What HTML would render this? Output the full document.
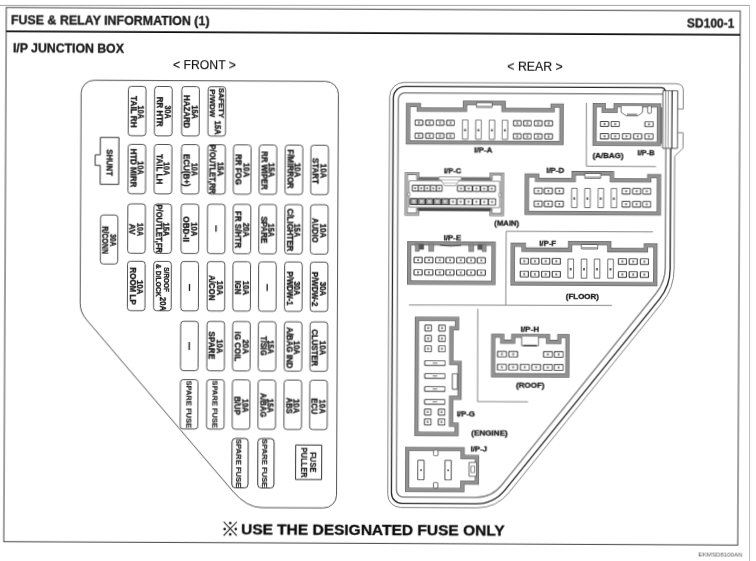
<!DOCTYPE html>
<html><head><meta charset="utf-8"><title>Fuse &amp; Relay Information</title>
<style>
html,body{margin:0;padding:0;background:#fff;}
svg{display:block;}
text{font-family:"Liberation Sans",sans-serif;}
</style></head><body>
<svg width="756" height="561" viewBox="0 0 756 561">
<defs><filter id="soft" x="-2%" y="-2%" width="104%" height="104%"><feGaussianBlur stdDeviation="0.35"/></filter></defs>
<rect width="756" height="561" fill="#ffffff"/>
<line x1="0" y1="5.4" x2="749.8" y2="5.4" stroke="#9a9a9a" stroke-width="0.9"/>
<line x1="749.6" y1="5.4" x2="749.6" y2="561" stroke="#b5b5b5" stroke-width="0.9"/>
<g transform="rotate(0.27 378.0 280.5)" filter="url(#soft)">
<rect x="5.02" y="9.25" width="733.98" height="534.15" fill="none" stroke="#444" stroke-width="1.0"/>
<line x1="5.02" y1="33.15" x2="739" y2="33.15" stroke="#111" stroke-width="1.7"/>
<text x="9.7" y="26.33" font-size="12.5" font-weight="bold" text-anchor="start" fill="#1c1c1c" textLength="198.6" lengthAdjust="spacingAndGlyphs"  stroke="#1c1c1c" stroke-width="0.35">FUSE &amp; RELAY INFORMATION (1)</text>
<text x="685.8" y="26.15" font-size="12.5" font-weight="bold" text-anchor="start" fill="#1c1c1c" textLength="47.4" lengthAdjust="spacingAndGlyphs"  stroke="#1c1c1c" stroke-width="0.35">SD100-1</text>
<text x="11.93" y="54.22" font-size="12.7" font-weight="bold" text-anchor="start" fill="#1c1c1c" textLength="110.9" lengthAdjust="spacingAndGlyphs"  stroke="#1c1c1c" stroke-width="0.35">I/P JUNCTION BOX</text>
<text x="172.11" y="70.07" font-size="12.4" font-weight="normal" text-anchor="start" fill="#111" textLength="62.8" lengthAdjust="spacingAndGlyphs" stroke="#111" stroke-width="0.15">&lt; FRONT &gt;</text>
<text x="506.31" y="69.69" font-size="12.4" font-weight="normal" text-anchor="start" fill="#111" textLength="55.4" lengthAdjust="spacingAndGlyphs" stroke="#111" stroke-width="0.15">&lt; REAR &gt;</text>
<text x="242.2" y="534.84" font-size="15.4" font-weight="bold" text-anchor="start" fill="#111" textLength="263.6" lengthAdjust="spacingAndGlyphs"  stroke="#111" stroke-width="0.35">USE THE DESIGNATED FUSE ONLY</text>
<g stroke="#111" stroke-width="1.05" stroke-linecap="butt"><line x1="224.77" y1="522.49" x2="237.97" y2="536.29"/><line x1="224.77" y1="536.29" x2="237.97" y2="522.49"/></g>
<circle cx="231.37" cy="523.69" r="1.3" fill="#111"/>
<circle cx="231.37" cy="535.09" r="1.3" fill="#111"/>
<circle cx="225.82" cy="529.79" r="1.3" fill="#111"/>
<circle cx="236.92" cy="529.79" r="1.3" fill="#111"/>
<text x="699.6" y="555.19" font-size="5.6" font-weight="normal" text-anchor="start" fill="#555" textLength="44.2" lengthAdjust="spacingAndGlyphs" >EKMSD8100AN</text>
<path d="M 93.26 81.6 L 324.55 81.6 A 13 13 0 0 1 337.55 94.6 L 337.55 495.2 A 13 13 0 0 1 324.55 508.2 L 263.07 508.2 Q 247.79 508.2 234 492.18 L 86.69 321.07 Q 80.26 313.61 80.26 304.4 L 80.26 94.6 A 13 13 0 0 1 93.26 81.6 Z" fill="none" stroke="#4a4a4a" stroke-width="0.95"/>
<rect x="127.5" y="87.5" width="17.6" height="49.4" rx="3" ry="3" fill="none" stroke="#484848" stroke-width="0.95"/>
<text transform="translate(137.3 113.29) rotate(90)" font-size="8.3" font-weight="bold" text-anchor="middle" fill="#1c1c1c" stroke="#1c1c1c" stroke-width="0.35" textLength="13.5" lengthAdjust="spacingAndGlyphs">10A</text>
<text transform="translate(129.5 112.89) rotate(90)" font-size="8.3" font-weight="bold" text-anchor="middle" fill="#1c1c1c" stroke="#1c1c1c" stroke-width="0.35" textLength="31.7" lengthAdjust="spacingAndGlyphs">TAIL RH</text>
<rect x="153.7" y="87.5" width="17.6" height="49.4" rx="3" ry="3" fill="none" stroke="#484848" stroke-width="0.95"/>
<text transform="translate(163.5 113.17) rotate(90)" font-size="8.3" font-weight="bold" text-anchor="middle" fill="#1c1c1c" stroke="#1c1c1c" stroke-width="0.35" textLength="13.5" lengthAdjust="spacingAndGlyphs">30A</text>
<text transform="translate(155.7 112.77) rotate(90)" font-size="8.3" font-weight="bold" text-anchor="middle" fill="#1c1c1c" stroke="#1c1c1c" stroke-width="0.35" textLength="30.1" lengthAdjust="spacingAndGlyphs">RR HTR</text>
<rect x="180.9" y="87.5" width="17.6" height="49.4" rx="3" ry="3" fill="none" stroke="#484848" stroke-width="0.95"/>
<text transform="translate(190.7 113.04) rotate(90)" font-size="8.3" font-weight="bold" text-anchor="middle" fill="#1c1c1c" stroke="#1c1c1c" stroke-width="0.35" textLength="13.5" lengthAdjust="spacingAndGlyphs">15A</text>
<text transform="translate(182.9 112.64) rotate(90)" font-size="8.3" font-weight="bold" text-anchor="middle" fill="#1c1c1c" stroke="#1c1c1c" stroke-width="0.35" textLength="33.3" lengthAdjust="spacingAndGlyphs">HAZARD</text>
<rect x="207.2" y="87.5" width="17.6" height="49.4" rx="3" ry="3" fill="none" stroke="#484848" stroke-width="0.95"/>
<text transform="translate(217.7 103.76) rotate(90)" font-size="7.8" font-weight="bold" text-anchor="middle" fill="#1c1c1c" stroke="#1c1c1c" stroke-width="0.35" textLength="30.2" lengthAdjust="spacingAndGlyphs">SAFETY</text>
<text transform="translate(209.4 104.16) rotate(90)" font-size="7.8" font-weight="bold" text-anchor="middle" fill="#1c1c1c" stroke="#1c1c1c" stroke-width="0.35" textLength="27.8" lengthAdjust="spacingAndGlyphs">P/WDW</text>
<text transform="translate(213.6 128.56) rotate(90)" font-size="8.6" font-weight="bold" text-anchor="middle" fill="#1c1c1c" stroke="#1c1c1c" stroke-width="0.35" textLength="14" lengthAdjust="spacingAndGlyphs">15A</text>
<rect x="127.5" y="145.5" width="17.6" height="49.4" rx="3" ry="3" fill="none" stroke="#484848" stroke-width="0.95"/>
<text transform="translate(137.3 169.09) rotate(90)" font-size="8.3" font-weight="bold" text-anchor="middle" fill="#1c1c1c" stroke="#1c1c1c" stroke-width="0.35" textLength="13.5" lengthAdjust="spacingAndGlyphs">10A</text>
<text transform="translate(129.5 169.09) rotate(90)" font-size="8.3" font-weight="bold" text-anchor="middle" fill="#1c1c1c" stroke="#1c1c1c" stroke-width="0.35" textLength="38.9" lengthAdjust="spacingAndGlyphs">HTD MIRR</text>
<rect x="153.7" y="145.5" width="17.6" height="49.4" rx="3" ry="3" fill="none" stroke="#484848" stroke-width="0.95"/>
<text transform="translate(163.5 169.77) rotate(90)" font-size="8.3" font-weight="bold" text-anchor="middle" fill="#1c1c1c" stroke="#1c1c1c" stroke-width="0.35" textLength="13.5" lengthAdjust="spacingAndGlyphs">10A</text>
<text transform="translate(155.7 170.12) rotate(90)" font-size="8.3" font-weight="bold" text-anchor="middle" fill="#1c1c1c" stroke="#1c1c1c" stroke-width="0.35" textLength="30.2" lengthAdjust="spacingAndGlyphs">TAIL LH</text>
<rect x="180.9" y="145.5" width="17.6" height="49.4" rx="3" ry="3" fill="none" stroke="#484848" stroke-width="0.95"/>
<text transform="translate(190.7 170.44) rotate(90)" font-size="8.3" font-weight="bold" text-anchor="middle" fill="#1c1c1c" stroke="#1c1c1c" stroke-width="0.35" textLength="13.5" lengthAdjust="spacingAndGlyphs">10A</text>
<text transform="translate(182.9 171.19) rotate(90)" font-size="8.3" font-weight="bold" text-anchor="middle" fill="#1c1c1c" stroke="#1c1c1c" stroke-width="0.35" textLength="32.6" lengthAdjust="spacingAndGlyphs">ECU(B+)</text>
<rect x="207.2" y="145.5" width="17.6" height="49.4" rx="3" ry="3" fill="none" stroke="#484848" stroke-width="0.95"/>
<text transform="translate(217 169.81) rotate(90)" font-size="8.3" font-weight="bold" text-anchor="middle" fill="#1c1c1c" stroke="#1c1c1c" stroke-width="0.35" textLength="14.3" lengthAdjust="spacingAndGlyphs">15A</text>
<text transform="translate(209.2 170.16) rotate(90)" font-size="8.3" font-weight="bold" text-anchor="middle" fill="#1c1c1c" stroke="#1c1c1c" stroke-width="0.35" textLength="49.2" lengthAdjust="spacingAndGlyphs">P/OUTLET,RR</text>
<rect x="232.9" y="145.5" width="17.6" height="49.4" rx="3" ry="3" fill="none" stroke="#484848" stroke-width="0.95"/>
<text transform="translate(242.7 170.64) rotate(90)" font-size="8.3" font-weight="bold" text-anchor="middle" fill="#1c1c1c" stroke="#1c1c1c" stroke-width="0.35" textLength="14.4" lengthAdjust="spacingAndGlyphs">10A</text>
<text transform="translate(234.9 170.19) rotate(90)" font-size="8.3" font-weight="bold" text-anchor="middle" fill="#1c1c1c" stroke="#1c1c1c" stroke-width="0.35" textLength="30.7" lengthAdjust="spacingAndGlyphs">RR FOG</text>
<rect x="258.6" y="145.5" width="17.6" height="49.4" rx="3" ry="3" fill="none" stroke="#484848" stroke-width="0.95"/>
<text transform="translate(268.4 170.52) rotate(90)" font-size="8.3" font-weight="bold" text-anchor="middle" fill="#1c1c1c" stroke="#1c1c1c" stroke-width="0.35" textLength="14.4" lengthAdjust="spacingAndGlyphs">15A</text>
<text transform="translate(260.6 171.02) rotate(90)" font-size="8.3" font-weight="bold" text-anchor="middle" fill="#1c1c1c" stroke="#1c1c1c" stroke-width="0.35" textLength="38.4" lengthAdjust="spacingAndGlyphs">RR WIPER</text>
<rect x="284.6" y="145.5" width="17.6" height="49.4" rx="3" ry="3" fill="none" stroke="#484848" stroke-width="0.95"/>
<text transform="translate(294.4 170.4) rotate(90)" font-size="8.3" font-weight="bold" text-anchor="middle" fill="#1c1c1c" stroke="#1c1c1c" stroke-width="0.35" textLength="14.4" lengthAdjust="spacingAndGlyphs">10A</text>
<text transform="translate(286.6 169.45) rotate(90)" font-size="8.3" font-weight="bold" text-anchor="middle" fill="#1c1c1c" stroke="#1c1c1c" stroke-width="0.35" textLength="39.3" lengthAdjust="spacingAndGlyphs">F/MIRROR</text>
<rect x="310.3" y="145.5" width="17.6" height="49.4" rx="3" ry="3" fill="none" stroke="#484848" stroke-width="0.95"/>
<text transform="translate(320.1 171.28) rotate(90)" font-size="8.3" font-weight="bold" text-anchor="middle" fill="#1c1c1c" stroke="#1c1c1c" stroke-width="0.35" textLength="14.4" lengthAdjust="spacingAndGlyphs">10A</text>
<text transform="translate(312.3 171.23) rotate(90)" font-size="8.3" font-weight="bold" text-anchor="middle" fill="#1c1c1c" stroke="#1c1c1c" stroke-width="0.35" textLength="25.9" lengthAdjust="spacingAndGlyphs">START</text>
<rect x="127.5" y="205" width="17.6" height="49.4" rx="3" ry="3" fill="none" stroke="#484848" stroke-width="0.95"/>
<text transform="translate(137.3 230.69) rotate(90)" font-size="8.3" font-weight="bold" text-anchor="middle" fill="#1c1c1c" stroke="#1c1c1c" stroke-width="0.35" textLength="13.5" lengthAdjust="spacingAndGlyphs">10A</text>
<text transform="translate(129.5 230.29) rotate(90)" font-size="8.3" font-weight="bold" text-anchor="middle" fill="#1c1c1c" stroke="#1c1c1c" stroke-width="0.35" textLength="11.1" lengthAdjust="spacingAndGlyphs">AV</text>
<rect x="153.7" y="205" width="17.6" height="49.4" rx="3" ry="3" fill="none" stroke="#484848" stroke-width="0.95"/>
<text transform="translate(163.5 230.37) rotate(90)" font-size="8.3" font-weight="bold" text-anchor="middle" fill="#1c1c1c" stroke="#1c1c1c" stroke-width="0.35" textLength="13.9" lengthAdjust="spacingAndGlyphs">15A</text>
<text transform="translate(155.7 229.72) rotate(90)" font-size="8.3" font-weight="bold" text-anchor="middle" fill="#1c1c1c" stroke="#1c1c1c" stroke-width="0.35" textLength="48.4" lengthAdjust="spacingAndGlyphs">P/OUTLET,FR</text>
<rect x="180.9" y="205" width="17.6" height="49.4" rx="3" ry="3" fill="none" stroke="#484848" stroke-width="0.95"/>
<text transform="translate(190.7 230.24) rotate(90)" font-size="8.3" font-weight="bold" text-anchor="middle" fill="#1c1c1c" stroke="#1c1c1c" stroke-width="0.35" textLength="13.9" lengthAdjust="spacingAndGlyphs">10A</text>
<text transform="translate(182.9 229.99) rotate(90)" font-size="8.3" font-weight="bold" text-anchor="middle" fill="#1c1c1c" stroke="#1c1c1c" stroke-width="0.35" textLength="25.4" lengthAdjust="spacingAndGlyphs">OBD-II</text>
<rect x="207.2" y="205" width="17.6" height="49.4" rx="3" ry="3" fill="none" stroke="#484848" stroke-width="0.95"/>
<line x1="215.8" y1="225.96" x2="215.8" y2="232.46" stroke="#1c1c1c" stroke-width="1.3"/>
<rect x="232.9" y="205" width="17.6" height="49.4" rx="3" ry="3" fill="none" stroke="#484848" stroke-width="0.95"/>
<text transform="translate(242.7 230.59) rotate(90)" font-size="8.3" font-weight="bold" text-anchor="middle" fill="#1c1c1c" stroke="#1c1c1c" stroke-width="0.35" textLength="14.3" lengthAdjust="spacingAndGlyphs">20A</text>
<text transform="translate(234.9 230.19) rotate(90)" font-size="8.3" font-weight="bold" text-anchor="middle" fill="#1c1c1c" stroke="#1c1c1c" stroke-width="0.35" textLength="37.3" lengthAdjust="spacingAndGlyphs">FR S/HTR</text>
<rect x="258.6" y="205" width="17.6" height="49.4" rx="3" ry="3" fill="none" stroke="#484848" stroke-width="0.95"/>
<text transform="translate(268.4 230.87) rotate(90)" font-size="8.3" font-weight="bold" text-anchor="middle" fill="#1c1c1c" stroke="#1c1c1c" stroke-width="0.35" textLength="13.5" lengthAdjust="spacingAndGlyphs">15A</text>
<text transform="translate(260.6 230.42) rotate(90)" font-size="8.3" font-weight="bold" text-anchor="middle" fill="#1c1c1c" stroke="#1c1c1c" stroke-width="0.35" textLength="27" lengthAdjust="spacingAndGlyphs">SPARE</text>
<rect x="284.6" y="205" width="17.6" height="49.4" rx="3" ry="3" fill="none" stroke="#484848" stroke-width="0.95"/>
<text transform="translate(294.4 230.75) rotate(90)" font-size="8.3" font-weight="bold" text-anchor="middle" fill="#1c1c1c" stroke="#1c1c1c" stroke-width="0.35" textLength="13.5" lengthAdjust="spacingAndGlyphs">15A</text>
<text transform="translate(286.6 230.3) rotate(90)" font-size="8.3" font-weight="bold" text-anchor="middle" fill="#1c1c1c" stroke="#1c1c1c" stroke-width="0.35" textLength="42.8" lengthAdjust="spacingAndGlyphs">C/LIGHTER</text>
<rect x="310.3" y="205" width="17.6" height="49.4" rx="3" ry="3" fill="none" stroke="#484848" stroke-width="0.95"/>
<text transform="translate(320.1 231.03) rotate(90)" font-size="8.3" font-weight="bold" text-anchor="middle" fill="#1c1c1c" stroke="#1c1c1c" stroke-width="0.35" textLength="14.3" lengthAdjust="spacingAndGlyphs">10A</text>
<text transform="translate(312.3 230.58) rotate(90)" font-size="8.3" font-weight="bold" text-anchor="middle" fill="#1c1c1c" stroke="#1c1c1c" stroke-width="0.35" textLength="24.6" lengthAdjust="spacingAndGlyphs">AUDIO</text>
<rect x="127.5" y="262.4" width="17.6" height="49.4" rx="3" ry="3" fill="none" stroke="#484848" stroke-width="0.95"/>
<text transform="translate(137.3 288.29) rotate(90)" font-size="8.3" font-weight="bold" text-anchor="middle" fill="#1c1c1c" stroke="#1c1c1c" stroke-width="0.35" textLength="14.3" lengthAdjust="spacingAndGlyphs">10A</text>
<text transform="translate(129.5 287.09) rotate(90)" font-size="8.3" font-weight="bold" text-anchor="middle" fill="#1c1c1c" stroke="#1c1c1c" stroke-width="0.35" textLength="37.3" lengthAdjust="spacingAndGlyphs">ROOM LP</text>
<rect x="153.7" y="262.4" width="17.6" height="49.4" rx="3" ry="3" fill="none" stroke="#484848" stroke-width="0.95"/>
<text transform="translate(164.2 280.62) rotate(90)" font-size="7.8" font-weight="bold" text-anchor="middle" fill="#1c1c1c" stroke="#1c1c1c" stroke-width="0.35" textLength="24.6" lengthAdjust="spacingAndGlyphs">S/ROOF</text>
<text transform="translate(155.9 281.42) rotate(90)" font-size="7.8" font-weight="bold" text-anchor="middle" fill="#1c1c1c" stroke="#1c1c1c" stroke-width="0.35" textLength="32.6" lengthAdjust="spacingAndGlyphs">&amp; D/LOCK</text>
<text transform="translate(160.1 304.92) rotate(90)" font-size="8.6" font-weight="bold" text-anchor="middle" fill="#1c1c1c" stroke="#1c1c1c" stroke-width="0.35" textLength="14" lengthAdjust="spacingAndGlyphs">20A</text>
<rect x="180.9" y="262.4" width="17.6" height="49.4" rx="3" ry="3" fill="none" stroke="#484848" stroke-width="0.95"/>
<line x1="189.5" y1="284.89" x2="189.5" y2="291.89" stroke="#1c1c1c" stroke-width="1.3"/>
<rect x="207.2" y="262.4" width="17.6" height="49.4" rx="3" ry="3" fill="none" stroke="#484848" stroke-width="0.95"/>
<text transform="translate(217 288.71) rotate(90)" font-size="8.3" font-weight="bold" text-anchor="middle" fill="#1c1c1c" stroke="#1c1c1c" stroke-width="0.35" textLength="14.3" lengthAdjust="spacingAndGlyphs">10A</text>
<text transform="translate(209.2 288.66) rotate(90)" font-size="8.3" font-weight="bold" text-anchor="middle" fill="#1c1c1c" stroke="#1c1c1c" stroke-width="0.35" textLength="25.4" lengthAdjust="spacingAndGlyphs">A/CON</text>
<rect x="232.9" y="262.4" width="17.6" height="49.4" rx="3" ry="3" fill="none" stroke="#484848" stroke-width="0.95"/>
<text transform="translate(242.7 288.59) rotate(90)" font-size="8.3" font-weight="bold" text-anchor="middle" fill="#1c1c1c" stroke="#1c1c1c" stroke-width="0.35" textLength="14.3" lengthAdjust="spacingAndGlyphs">10A</text>
<text transform="translate(234.9 288.19) rotate(90)" font-size="8.3" font-weight="bold" text-anchor="middle" fill="#1c1c1c" stroke="#1c1c1c" stroke-width="0.35" textLength="13.5" lengthAdjust="spacingAndGlyphs">IGN</text>
<rect x="258.6" y="262.4" width="17.6" height="49.4" rx="3" ry="3" fill="none" stroke="#484848" stroke-width="0.95"/>
<line x1="267.2" y1="284.52" x2="267.2" y2="291.62" stroke="#1c1c1c" stroke-width="1.3"/>
<rect x="284.6" y="262.4" width="17.6" height="49.4" rx="3" ry="3" fill="none" stroke="#484848" stroke-width="0.95"/>
<text transform="translate(294.4 288.8) rotate(90)" font-size="8.3" font-weight="bold" text-anchor="middle" fill="#1c1c1c" stroke="#1c1c1c" stroke-width="0.35" textLength="14.2" lengthAdjust="spacingAndGlyphs">30A</text>
<text transform="translate(286.6 288.75) rotate(90)" font-size="8.3" font-weight="bold" text-anchor="middle" fill="#1c1c1c" stroke="#1c1c1c" stroke-width="0.35" textLength="34.1" lengthAdjust="spacingAndGlyphs">P/WDW-1</text>
<rect x="310.3" y="262.4" width="17.6" height="49.4" rx="3" ry="3" fill="none" stroke="#484848" stroke-width="0.95"/>
<text transform="translate(320.1 289.03) rotate(90)" font-size="8.3" font-weight="bold" text-anchor="middle" fill="#1c1c1c" stroke="#1c1c1c" stroke-width="0.35" textLength="14.3" lengthAdjust="spacingAndGlyphs">30A</text>
<text transform="translate(312.3 289.38) rotate(90)" font-size="8.3" font-weight="bold" text-anchor="middle" fill="#1c1c1c" stroke="#1c1c1c" stroke-width="0.35" textLength="34.2" lengthAdjust="spacingAndGlyphs">P/WDW-2</text>
<rect x="180.9" y="322.2" width="17.6" height="49.4" rx="3" ry="3" fill="none" stroke="#484848" stroke-width="0.95"/>
<line x1="189.5" y1="342.89" x2="189.5" y2="350.89" stroke="#1c1c1c" stroke-width="1.3"/>
<rect x="207.2" y="322.2" width="17.6" height="49.4" rx="3" ry="3" fill="none" stroke="#484848" stroke-width="0.95"/>
<text transform="translate(217 347.26) rotate(90)" font-size="8.3" font-weight="bold" text-anchor="middle" fill="#1c1c1c" stroke="#1c1c1c" stroke-width="0.35" textLength="13.8" lengthAdjust="spacingAndGlyphs">10A</text>
<text transform="translate(209.2 346.16) rotate(90)" font-size="8.3" font-weight="bold" text-anchor="middle" fill="#1c1c1c" stroke="#1c1c1c" stroke-width="0.35" textLength="27.6" lengthAdjust="spacingAndGlyphs">SPARE</text>
<rect x="232.9" y="322.2" width="17.6" height="49.4" rx="3" ry="3" fill="none" stroke="#484848" stroke-width="0.95"/>
<text transform="translate(242.7 347.39) rotate(90)" font-size="8.3" font-weight="bold" text-anchor="middle" fill="#1c1c1c" stroke="#1c1c1c" stroke-width="0.35" textLength="14.3" lengthAdjust="spacingAndGlyphs">20A</text>
<text transform="translate(234.9 347.19) rotate(90)" font-size="8.3" font-weight="bold" text-anchor="middle" fill="#1c1c1c" stroke="#1c1c1c" stroke-width="0.35" textLength="29.9" lengthAdjust="spacingAndGlyphs">IG COIL</text>
<rect x="258.6" y="322.2" width="17.6" height="49.4" rx="3" ry="3" fill="none" stroke="#484848" stroke-width="0.95"/>
<text transform="translate(268.4 347.52) rotate(90)" font-size="8.3" font-weight="bold" text-anchor="middle" fill="#1c1c1c" stroke="#1c1c1c" stroke-width="0.35" textLength="13.8" lengthAdjust="spacingAndGlyphs">15A</text>
<text transform="translate(260.6 346.47) rotate(90)" font-size="8.3" font-weight="bold" text-anchor="middle" fill="#1c1c1c" stroke="#1c1c1c" stroke-width="0.35" textLength="19.5" lengthAdjust="spacingAndGlyphs">T/SIG</text>
<rect x="284.6" y="322.2" width="17.6" height="49.4" rx="3" ry="3" fill="none" stroke="#484848" stroke-width="0.95"/>
<text transform="translate(294.4 348.1) rotate(90)" font-size="8.3" font-weight="bold" text-anchor="middle" fill="#1c1c1c" stroke="#1c1c1c" stroke-width="0.35" textLength="13.8" lengthAdjust="spacingAndGlyphs">10A</text>
<text transform="translate(286.6 348.1) rotate(90)" font-size="8.3" font-weight="bold" text-anchor="middle" fill="#1c1c1c" stroke="#1c1c1c" stroke-width="0.35" textLength="41.4" lengthAdjust="spacingAndGlyphs">A/BAG IND</text>
<rect x="310.3" y="322.2" width="17.6" height="49.4" rx="3" ry="3" fill="none" stroke="#484848" stroke-width="0.95"/>
<text transform="translate(320.1 348.28) rotate(90)" font-size="8.3" font-weight="bold" text-anchor="middle" fill="#1c1c1c" stroke="#1c1c1c" stroke-width="0.35" textLength="14.4" lengthAdjust="spacingAndGlyphs">10A</text>
<text transform="translate(312.3 347.98) rotate(90)" font-size="8.3" font-weight="bold" text-anchor="middle" fill="#1c1c1c" stroke="#1c1c1c" stroke-width="0.35" textLength="36.8" lengthAdjust="spacingAndGlyphs">CLUSTER</text>
<rect x="180.9" y="380.5" width="17.6" height="49.4" rx="3" ry="3" fill="none" stroke="#484848" stroke-width="0.95"/>
<text transform="translate(186.6 405.19) rotate(90)" font-size="7.9" font-weight="bold" text-anchor="middle" fill="#1c1c1c" stroke="#1c1c1c" stroke-width="0.2" textLength="47.4" lengthAdjust="spacingAndGlyphs">SPARE FUSE</text>
<rect x="207.2" y="380.5" width="17.6" height="49.4" rx="3" ry="3" fill="none" stroke="#484848" stroke-width="0.95"/>
<text transform="translate(212.9 405.06) rotate(90)" font-size="7.9" font-weight="bold" text-anchor="middle" fill="#1c1c1c" stroke="#1c1c1c" stroke-width="0.2" textLength="47.4" lengthAdjust="spacingAndGlyphs">SPARE FUSE</text>
<rect x="232.9" y="380.5" width="17.6" height="49.4" rx="3" ry="3" fill="none" stroke="#484848" stroke-width="0.95"/>
<text transform="translate(242.7 406.34) rotate(90)" font-size="8.3" font-weight="bold" text-anchor="middle" fill="#1c1c1c" stroke="#1c1c1c" stroke-width="0.35" textLength="13.8" lengthAdjust="spacingAndGlyphs">10A</text>
<text transform="translate(234.9 406.34) rotate(90)" font-size="8.3" font-weight="bold" text-anchor="middle" fill="#1c1c1c" stroke="#1c1c1c" stroke-width="0.35" textLength="18.4" lengthAdjust="spacingAndGlyphs">B/UP</text>
<rect x="258.6" y="380.5" width="17.6" height="49.4" rx="3" ry="3" fill="none" stroke="#484848" stroke-width="0.95"/>
<text transform="translate(268.4 406.22) rotate(90)" font-size="8.3" font-weight="bold" text-anchor="middle" fill="#1c1c1c" stroke="#1c1c1c" stroke-width="0.35" textLength="13.8" lengthAdjust="spacingAndGlyphs">15A</text>
<text transform="translate(260.6 405.62) rotate(90)" font-size="8.3" font-weight="bold" text-anchor="middle" fill="#1c1c1c" stroke="#1c1c1c" stroke-width="0.35" textLength="24.2" lengthAdjust="spacingAndGlyphs">A/BAG</text>
<rect x="284.6" y="380.5" width="17.6" height="49.4" rx="3" ry="3" fill="none" stroke="#484848" stroke-width="0.95"/>
<text transform="translate(294.4 406.4) rotate(90)" font-size="8.3" font-weight="bold" text-anchor="middle" fill="#1c1c1c" stroke="#1c1c1c" stroke-width="0.35" textLength="14.4" lengthAdjust="spacingAndGlyphs">10A</text>
<text transform="translate(286.6 406.05) rotate(90)" font-size="8.3" font-weight="bold" text-anchor="middle" fill="#1c1c1c" stroke="#1c1c1c" stroke-width="0.35" textLength="16.1" lengthAdjust="spacingAndGlyphs">ABS</text>
<rect x="310.3" y="380.5" width="17.6" height="49.4" rx="3" ry="3" fill="none" stroke="#484848" stroke-width="0.95"/>
<text transform="translate(320.1 406.88) rotate(90)" font-size="8.3" font-weight="bold" text-anchor="middle" fill="#1c1c1c" stroke="#1c1c1c" stroke-width="0.35" textLength="14.2" lengthAdjust="spacingAndGlyphs">10A</text>
<text transform="translate(312.3 406.43) rotate(90)" font-size="8.3" font-weight="bold" text-anchor="middle" fill="#1c1c1c" stroke="#1c1c1c" stroke-width="0.35" textLength="16.1" lengthAdjust="spacingAndGlyphs">ECU</text>
<rect x="232.8" y="439.1" width="16.2" height="49.4" rx="3.5" fill="none" stroke="#333" stroke-width="1"/>
<text transform="translate(237.5 463.85) rotate(90)" font-size="7.9" font-weight="bold" text-anchor="middle" fill="#1c1c1c" stroke="#1c1c1c" stroke-width="0.2" textLength="48.4" lengthAdjust="spacingAndGlyphs">SPARE FUSE</text>
<rect x="258.7" y="439.1" width="16.2" height="49.4" rx="3.5" fill="none" stroke="#333" stroke-width="1"/>
<text transform="translate(263.4 463.72) rotate(90)" font-size="7.9" font-weight="bold" text-anchor="middle" fill="#1c1c1c" stroke="#1c1c1c" stroke-width="0.2" textLength="48.4" lengthAdjust="spacingAndGlyphs">SPARE FUSE</text>
<rect x="100.26" y="216.27" width="17.4" height="49" rx="3" ry="3" fill="none" stroke="#484848" stroke-width="0.95"/>
<text transform="translate(109.86 241.37) rotate(90)" font-size="8.2" font-weight="bold" text-anchor="middle" fill="#1c1c1c" stroke="#1c1c1c" stroke-width="0.35" textLength="12.2" lengthAdjust="spacingAndGlyphs">30A</text>
<text transform="translate(102.06 241.37) rotate(90)" font-size="8.2" font-weight="bold" text-anchor="middle" fill="#1c1c1c" stroke="#1c1c1c" stroke-width="0.35" textLength="27.8" lengthAdjust="spacingAndGlyphs">R/CONN</text>
<path d="M 99.73 138.71 L 118.25 138.71 L 118.25 185.62 L 99.73 185.62 L 99.73 166.71 L 94.63 166.71 L 94.63 156.11 L 99.73 156.11 Z" fill="none" stroke="#333" stroke-width="1"/>
<text transform="translate(105.99 163.87) rotate(90)" font-size="8.3" font-weight="bold" text-anchor="middle" fill="#1c1c1c" stroke="#1c1c1c" stroke-width="0.35" textLength="26.5" lengthAdjust="spacingAndGlyphs">SHUNT</text>
<rect x="296.48" y="445.39" width="26.06" height="34.48" fill="none" stroke="#333" stroke-width="1"/>
<text transform="translate(311.01 462.42) rotate(90)" font-size="8.2" font-weight="bold" text-anchor="middle" fill="#1c1c1c" stroke="#1c1c1c" stroke-width="0.2" textLength="20.5" lengthAdjust="spacingAndGlyphs">FUSE</text>
<text transform="translate(301.71 462.82) rotate(90)" font-size="8.2" font-weight="bold" text-anchor="middle" fill="#1c1c1c" stroke="#1c1c1c" stroke-width="0.2" textLength="30.4" lengthAdjust="spacingAndGlyphs">PULLER</text>
<path d="M 662 92.75 L 403.95 92.75 A 6.5 6.5 0 0 0 397.45 99.25 L 397.45 490 A 7 7 0 0 0 404.45 497 L 476.73 497 Q 492.73 497 502.7 484.49 L 655.95 292.19 Q 665.3 280.46 665.3 265.46 L 665.3 146.99" fill="none" stroke="#8a8a8a" stroke-width="1.5"/>
<path d="M 661 86.3 L 403.95 86.3 A 11.5 11.5 0 0 0 392.45 97.8 L 392.45 492.9 A 10.5 10.5 0 0 0 402.95 503.4 L 476.73 503.4 Q 494.73 503.4 505.99 489.35 L 659.47 297.81 Q 670.1 284.54 670.1 267.54 L 670.1 146.99" fill="none" stroke="#2a2a2a" stroke-width="1.35"/>
<path d="M 674.8 82.3 L 403.25 82.3 A 14.5 14.5 0 0 0 388.75 96.8 L 388.75 494.4 A 13 13 0 0 0 401.75 507.4 L 477.63 507.4 Q 497.63 507.4 510.11 491.77 L 662.24 301.31 Q 674.1 286.46 674.1 267.46 L 674.1 154.99" fill="none" stroke="#7c7c7c" stroke-width="0.95"/>
<path d="M 661 86.3 Q 663.5 86.6 664.6 89.46" fill="none" stroke="#111" stroke-width="1.3"/>
<rect x="662" y="89.46" width="14.8" height="57.53" fill="#fff" stroke="#3a3a3a" stroke-width="0.9"/>
<line x1="664.8" y1="89.46" x2="664.8" y2="146.99" stroke="#666" stroke-width="0.8"/>
<line x1="667.4" y1="89.46" x2="667.4" y2="146.99" stroke="#777" stroke-width="0.8"/>
<line x1="671.3" y1="89.46" x2="671.3" y2="146.99" stroke="#111" stroke-width="1.3"/>
<path d="M 674.8 82.3 Q 682.4 82.5 682.4 88.96 L 682.4 107.66 L 676.8 107.66 " fill="none" stroke="#7c7c7c" stroke-width="0.95"/>
<path d="M 676.8 131.26 L 682.4 131.26 L 682.4 146.79 L 674.1 154.99" fill="none" stroke="#7c7c7c" stroke-width="0.95"/>
<line x1="585.56" y1="102.02" x2="585.86" y2="165.22" stroke="#555" stroke-width="0.7" />
<line x1="585.86" y1="165.22" x2="655.46" y2="165.29" stroke="#555" stroke-width="0.7" />
<line x1="505.97" y1="230.7" x2="652.77" y2="230.6" stroke="#555" stroke-width="0.7" />
<line x1="505.97" y1="230.7" x2="505.91" y2="304.3" stroke="#555" stroke-width="0.7" />
<line x1="409.12" y1="304.85" x2="612.11" y2="304.3" stroke="#555" stroke-width="0.7" />
<line x1="477.93" y1="308.33" x2="478.17" y2="401.13" stroke="#555" stroke-width="0.7" />
<line x1="478.17" y1="401.13" x2="528.57" y2="401.09" stroke="#555" stroke-width="0.7" />
<path d="M 407.41 142.12 L 407.41 104.82 L 418.01 104.82 L 418.01 109.32 L 464.21 109.32 L 464.21 102.52 L 502.81 102.52 L 502.81 109.32 L 551.91 109.32 L 551.91 104.82 L 560.81 104.82 L 560.81 142.12 Z" fill="#fff" stroke="#555" stroke-width="4.3" stroke-linejoin="miter"/>
<path d="M 407.41 142.12 L 407.41 104.82 L 418.01 104.82 L 418.01 109.32 L 464.21 109.32 L 464.21 102.52 L 502.81 102.52 L 502.81 109.32 L 551.91 109.32 L 551.91 104.82 L 560.81 104.82 L 560.81 142.12 Z" fill="none" stroke="#929292" stroke-width="3.2" stroke-linejoin="miter"/>
<rect x="475.66" y="102.17" width="15.7" height="4.8" fill="#fff" stroke="#444" stroke-width="0.8"/>
<line x1="476.16" y1="105.77" x2="490.86" y2="105.77" stroke="#999" stroke-width="1.2"/>
<rect x="414.36" y="119.97" width="7.7" height="5.1" fill="#fff" stroke="#222" stroke-width="1.0"/>
<rect x="417.21" y="121.42" width="2" height="2.2" fill="#777"/>
<rect x="414.36" y="133.07" width="7.7" height="5.1" fill="#fff" stroke="#222" stroke-width="1.0"/>
<rect x="417.21" y="134.52" width="2" height="2.2" fill="#777"/>
<rect x="424.96" y="119.97" width="7.7" height="5.1" fill="#fff" stroke="#222" stroke-width="1.0"/>
<rect x="427.81" y="121.42" width="2" height="2.2" fill="#777"/>
<rect x="424.96" y="133.07" width="7.7" height="5.1" fill="#fff" stroke="#222" stroke-width="1.0"/>
<rect x="427.81" y="134.52" width="2" height="2.2" fill="#777"/>
<rect x="435.46" y="119.97" width="7.7" height="5.1" fill="#fff" stroke="#222" stroke-width="1.0"/>
<rect x="438.31" y="121.42" width="2" height="2.2" fill="#777"/>
<rect x="435.46" y="133.07" width="7.7" height="5.1" fill="#fff" stroke="#222" stroke-width="1.0"/>
<rect x="438.31" y="134.52" width="2" height="2.2" fill="#777"/>
<rect x="445.86" y="119.97" width="7.7" height="5.1" fill="#fff" stroke="#222" stroke-width="1.0"/>
<rect x="448.71" y="121.42" width="2" height="2.2" fill="#777"/>
<rect x="445.86" y="133.07" width="7.7" height="5.1" fill="#fff" stroke="#222" stroke-width="1.0"/>
<rect x="448.71" y="134.52" width="2" height="2.2" fill="#777"/>
<rect x="512.66" y="119.97" width="7.7" height="5.1" fill="#fff" stroke="#222" stroke-width="1.0"/>
<rect x="515.51" y="121.42" width="2" height="2.2" fill="#777"/>
<rect x="512.66" y="133.07" width="7.7" height="5.1" fill="#fff" stroke="#222" stroke-width="1.0"/>
<rect x="515.51" y="134.52" width="2" height="2.2" fill="#777"/>
<rect x="522.76" y="119.97" width="7.7" height="5.1" fill="#fff" stroke="#222" stroke-width="1.0"/>
<rect x="525.61" y="121.42" width="2" height="2.2" fill="#777"/>
<rect x="522.76" y="133.07" width="7.7" height="5.1" fill="#fff" stroke="#222" stroke-width="1.0"/>
<rect x="525.61" y="134.52" width="2" height="2.2" fill="#777"/>
<rect x="533.56" y="119.97" width="7.7" height="5.1" fill="#fff" stroke="#222" stroke-width="1.0"/>
<rect x="536.41" y="121.42" width="2" height="2.2" fill="#777"/>
<rect x="533.56" y="133.07" width="7.7" height="5.1" fill="#fff" stroke="#222" stroke-width="1.0"/>
<rect x="536.41" y="134.52" width="2" height="2.2" fill="#777"/>
<rect x="544.06" y="119.97" width="7.7" height="5.1" fill="#fff" stroke="#222" stroke-width="1.0"/>
<rect x="546.91" y="121.42" width="2" height="2.2" fill="#777"/>
<rect x="544.06" y="133.07" width="7.7" height="5.1" fill="#fff" stroke="#222" stroke-width="1.0"/>
<rect x="546.91" y="134.52" width="2" height="2.2" fill="#777"/>
<rect x="461.66" y="119.57" width="5.6" height="19.2" fill="#fff" stroke="#444" stroke-width="0.8"/>
<rect x="463.36" y="128.57" width="2.0" height="2.4" fill="#555"/>
<rect x="474.96" y="119.57" width="5.6" height="19.2" fill="#fff" stroke="#444" stroke-width="0.8"/>
<rect x="476.66" y="128.57" width="2.0" height="2.4" fill="#555"/>
<rect x="488.46" y="119.57" width="5.6" height="19.2" fill="#fff" stroke="#444" stroke-width="0.8"/>
<rect x="490.16" y="128.57" width="2.0" height="2.4" fill="#555"/>
<rect x="501.46" y="119.57" width="5.6" height="19.2" fill="#fff" stroke="#444" stroke-width="0.8"/>
<rect x="503.16" y="128.57" width="2.0" height="2.4" fill="#555"/>
<text x="473.6" y="152.15" font-size="7.6" font-weight="bold" text-anchor="start" fill="#1c1c1c" textLength="18" lengthAdjust="spacingAndGlyphs"  stroke="#1c1c1c" stroke-width="0.35">I/P-A</text>
<path d="M 526.44 212.06 L 526.44 174.86 L 536.64 174.86 L 536.64 179.16 L 573.24 179.16 L 573.24 172.26 L 611.44 172.26 L 611.44 179.16 L 648.84 179.16 L 648.84 174.86 L 658.44 174.86 L 658.44 212.06 Z" fill="#fff" stroke="#555" stroke-width="4.3" stroke-linejoin="miter"/>
<path d="M 526.44 212.06 L 526.44 174.86 L 536.64 174.86 L 536.64 179.16 L 573.24 179.16 L 573.24 172.26 L 611.44 172.26 L 611.44 179.16 L 648.84 179.16 L 648.84 174.86 L 658.44 174.86 L 658.44 212.06 Z" fill="none" stroke="#929292" stroke-width="3.2" stroke-linejoin="miter"/>
<rect x="584.29" y="172.41" width="15.9" height="4.9" fill="#fff" stroke="#444" stroke-width="0.8"/>
<line x1="584.79" y1="176.11" x2="599.69" y2="176.11" stroke="#999" stroke-width="1.2"/>
<rect x="533.79" y="187.31" width="8" height="5.6" fill="#fff" stroke="#222" stroke-width="1.0"/>
<rect x="536.79" y="189.01" width="2" height="2.2" fill="#777"/>
<rect x="533.79" y="200.31" width="8" height="5.6" fill="#fff" stroke="#222" stroke-width="1.0"/>
<rect x="536.79" y="202.01" width="2" height="2.2" fill="#777"/>
<rect x="543.99" y="187.31" width="8" height="5.6" fill="#fff" stroke="#222" stroke-width="1.0"/>
<rect x="546.99" y="189.01" width="2" height="2.2" fill="#777"/>
<rect x="543.99" y="200.31" width="8" height="5.6" fill="#fff" stroke="#222" stroke-width="1.0"/>
<rect x="546.99" y="202.01" width="2" height="2.2" fill="#777"/>
<rect x="554.99" y="187.31" width="8" height="5.6" fill="#fff" stroke="#222" stroke-width="1.0"/>
<rect x="557.99" y="189.01" width="2" height="2.2" fill="#777"/>
<rect x="554.99" y="200.31" width="8" height="5.6" fill="#fff" stroke="#222" stroke-width="1.0"/>
<rect x="557.99" y="202.01" width="2" height="2.2" fill="#777"/>
<rect x="621.69" y="187.31" width="8" height="5.6" fill="#fff" stroke="#222" stroke-width="1.0"/>
<rect x="624.69" y="189.01" width="2" height="2.2" fill="#777"/>
<rect x="621.69" y="200.31" width="8" height="5.6" fill="#fff" stroke="#222" stroke-width="1.0"/>
<rect x="624.69" y="202.01" width="2" height="2.2" fill="#777"/>
<rect x="632.29" y="187.31" width="8" height="5.6" fill="#fff" stroke="#222" stroke-width="1.0"/>
<rect x="635.29" y="189.01" width="2" height="2.2" fill="#777"/>
<rect x="632.29" y="200.31" width="8" height="5.6" fill="#fff" stroke="#222" stroke-width="1.0"/>
<rect x="635.29" y="202.01" width="2" height="2.2" fill="#777"/>
<rect x="642.39" y="187.31" width="8" height="5.6" fill="#fff" stroke="#222" stroke-width="1.0"/>
<rect x="645.39" y="189.01" width="2" height="2.2" fill="#777"/>
<rect x="642.39" y="200.31" width="8" height="5.6" fill="#fff" stroke="#222" stroke-width="1.0"/>
<rect x="645.39" y="202.01" width="2" height="2.2" fill="#777"/>
<rect x="571.19" y="187.41" width="5.6" height="19.2" fill="#fff" stroke="#444" stroke-width="0.8"/>
<rect x="572.89" y="196.41" width="2.0" height="2.4" fill="#555"/>
<rect x="584.29" y="187.41" width="5.6" height="19.2" fill="#fff" stroke="#444" stroke-width="0.8"/>
<rect x="585.99" y="196.41" width="2.0" height="2.4" fill="#555"/>
<rect x="597.69" y="187.41" width="5.6" height="19.2" fill="#fff" stroke="#444" stroke-width="0.8"/>
<rect x="599.39" y="196.41" width="2.0" height="2.4" fill="#555"/>
<rect x="610.79" y="187.41" width="5.6" height="19.2" fill="#fff" stroke="#444" stroke-width="0.8"/>
<rect x="612.49" y="196.41" width="2.0" height="2.4" fill="#555"/>
<text x="545.79" y="172.01" font-size="7.6" font-weight="bold" text-anchor="start" fill="#1c1c1c" textLength="17.8" lengthAdjust="spacingAndGlyphs"  stroke="#1c1c1c" stroke-width="0.35">I/P-D</text>
<path d="M 512.67 282.92 L 512.67 244.22 L 523.47 244.22 L 523.47 249.02 L 569.97 249.02 L 569.97 242.12 L 609.07 242.12 L 609.07 249.02 L 645.77 249.02 L 645.77 244.22 L 655.17 244.22 L 655.17 282.92 Z" fill="#fff" stroke="#555" stroke-width="4.3" stroke-linejoin="miter"/>
<path d="M 512.67 282.92 L 512.67 244.22 L 523.47 244.22 L 523.47 249.02 L 569.97 249.02 L 569.97 242.12 L 609.07 242.12 L 609.07 249.02 L 645.77 249.02 L 645.77 244.22 L 655.17 244.22 L 655.17 282.92 Z" fill="none" stroke="#929292" stroke-width="3.2" stroke-linejoin="miter"/>
<rect x="581.22" y="243.47" width="16.4" height="4.5" fill="#fff" stroke="#444" stroke-width="0.8"/>
<line x1="581.72" y1="246.77" x2="597.12" y2="246.77" stroke="#999" stroke-width="1.2"/>
<rect x="520.22" y="257.57" width="8.1" height="5.7" fill="#fff" stroke="#222" stroke-width="1.0"/>
<rect x="523.27" y="259.32" width="2" height="2.2" fill="#777"/>
<rect x="520.22" y="270.57" width="8.1" height="5.7" fill="#fff" stroke="#222" stroke-width="1.0"/>
<rect x="523.27" y="272.32" width="2" height="2.2" fill="#777"/>
<rect x="530.82" y="257.57" width="8.1" height="5.7" fill="#fff" stroke="#222" stroke-width="1.0"/>
<rect x="533.87" y="259.32" width="2" height="2.2" fill="#777"/>
<rect x="530.82" y="270.57" width="8.1" height="5.7" fill="#fff" stroke="#222" stroke-width="1.0"/>
<rect x="533.87" y="272.32" width="2" height="2.2" fill="#777"/>
<rect x="541.62" y="257.57" width="8.1" height="5.7" fill="#fff" stroke="#222" stroke-width="1.0"/>
<rect x="544.67" y="259.32" width="2" height="2.2" fill="#777"/>
<rect x="541.62" y="270.57" width="8.1" height="5.7" fill="#fff" stroke="#222" stroke-width="1.0"/>
<rect x="544.67" y="272.32" width="2" height="2.2" fill="#777"/>
<rect x="552.22" y="257.57" width="8.1" height="5.7" fill="#fff" stroke="#222" stroke-width="1.0"/>
<rect x="555.27" y="259.32" width="2" height="2.2" fill="#777"/>
<rect x="552.22" y="270.57" width="8.1" height="5.7" fill="#fff" stroke="#222" stroke-width="1.0"/>
<rect x="555.27" y="272.32" width="2" height="2.2" fill="#777"/>
<rect x="618.32" y="257.57" width="8.1" height="5.7" fill="#fff" stroke="#222" stroke-width="1.0"/>
<rect x="621.37" y="259.32" width="2" height="2.2" fill="#777"/>
<rect x="618.32" y="270.57" width="8.1" height="5.7" fill="#fff" stroke="#222" stroke-width="1.0"/>
<rect x="621.37" y="272.32" width="2" height="2.2" fill="#777"/>
<rect x="629.12" y="257.57" width="8.1" height="5.7" fill="#fff" stroke="#222" stroke-width="1.0"/>
<rect x="632.17" y="259.32" width="2" height="2.2" fill="#777"/>
<rect x="629.12" y="270.57" width="8.1" height="5.7" fill="#fff" stroke="#222" stroke-width="1.0"/>
<rect x="632.17" y="272.32" width="2" height="2.2" fill="#777"/>
<rect x="640.32" y="257.57" width="8.1" height="5.7" fill="#fff" stroke="#222" stroke-width="1.0"/>
<rect x="643.37" y="259.32" width="2" height="2.2" fill="#777"/>
<rect x="640.32" y="270.57" width="8.1" height="5.7" fill="#fff" stroke="#222" stroke-width="1.0"/>
<rect x="643.37" y="272.32" width="2" height="2.2" fill="#777"/>
<rect x="567.92" y="258.07" width="5.6" height="19.1" fill="#fff" stroke="#444" stroke-width="0.8"/>
<rect x="569.62" y="267.02" width="2.0" height="2.4" fill="#555"/>
<rect x="581.22" y="258.07" width="5.6" height="19.1" fill="#fff" stroke="#444" stroke-width="0.8"/>
<rect x="582.92" y="267.02" width="2.0" height="2.4" fill="#555"/>
<rect x="594.22" y="258.07" width="5.6" height="19.1" fill="#fff" stroke="#444" stroke-width="0.8"/>
<rect x="595.92" y="267.02" width="2.0" height="2.4" fill="#555"/>
<rect x="607.72" y="258.07" width="5.6" height="19.1" fill="#fff" stroke="#444" stroke-width="0.8"/>
<rect x="609.42" y="267.02" width="2.0" height="2.4" fill="#555"/>
<text x="539.23" y="244.64" font-size="7.6" font-weight="bold" text-anchor="start" fill="#1c1c1c" textLength="16.8" lengthAdjust="spacingAndGlyphs"  stroke="#1c1c1c" stroke-width="0.35">I/P-F</text>
<text x="565.79" y="298.42" font-size="7.6" font-weight="bold" text-anchor="start" fill="#1c1c1c" textLength="33.2" lengthAdjust="spacingAndGlyphs"  stroke="#1c1c1c" stroke-width="0.35">(FLOOR)</text>
<path d="M 593.96 142.59 L 593.96 104.09 L 602.86 104.09 L 602.86 109.69 L 614.86 109.69 L 614.86 104.09 L 658.16 104.09 L 658.16 142.59 Z" fill="#fff" stroke="#555" stroke-width="4.2" stroke-linejoin="miter"/>
<path d="M 593.96 142.59 L 593.96 104.09 L 602.86 104.09 L 602.86 109.69 L 614.86 109.69 L 614.86 104.09 L 658.16 104.09 L 658.16 142.59 Z" fill="none" stroke="#929292" stroke-width="3.1" stroke-linejoin="miter"/>
<line x1="660.76" y1="106.09" x2="660.76" y2="142.59" stroke="#666" stroke-width="1.4"/>
<path d="M 620.26 104.89 L 620.26 111.09 L 625.46 114.69 L 636.96 114.69 L 641.76 111.09 L 641.76 104.89" fill="#fff" stroke="#555" stroke-width="0.9"/>
<line x1="625.96" y1="113.39" x2="636.46" y2="113.39" stroke="#888" stroke-width="1.8"/>
<rect x="646.76" y="104.69" width="3.8" height="7.4" rx="1.2" fill="#fff" stroke="#555" stroke-width="0.9"/>
<rect x="599.66" y="120.49" width="8.2" height="4.9" fill="#fff" stroke="#222" stroke-width="1.0"/>
<rect x="602.76" y="121.84" width="2" height="2.2" fill="#777"/>
<rect x="610.36" y="120.49" width="8.2" height="4.9" fill="#fff" stroke="#222" stroke-width="1.0"/>
<rect x="613.46" y="121.84" width="2" height="2.2" fill="#777"/>
<rect x="644.16" y="120.49" width="8.2" height="4.9" fill="#fff" stroke="#222" stroke-width="1.0"/>
<rect x="647.26" y="121.84" width="2" height="2.2" fill="#777"/>
<rect x="599.66" y="132.59" width="8.2" height="5.3" fill="#fff" stroke="#222" stroke-width="1.0"/>
<rect x="602.76" y="134.14" width="2" height="2.2" fill="#777"/>
<rect x="610.36" y="132.59" width="8.2" height="5.3" fill="#fff" stroke="#222" stroke-width="1.0"/>
<rect x="613.46" y="134.14" width="2" height="2.2" fill="#777"/>
<rect x="621.66" y="132.59" width="8.2" height="5.3" fill="#fff" stroke="#222" stroke-width="1.0"/>
<rect x="624.76" y="134.14" width="2" height="2.2" fill="#777"/>
<rect x="632.86" y="132.59" width="8.2" height="5.3" fill="#fff" stroke="#222" stroke-width="1.0"/>
<rect x="635.96" y="134.14" width="2" height="2.2" fill="#777"/>
<rect x="644.16" y="132.59" width="8.2" height="5.3" fill="#fff" stroke="#222" stroke-width="1.0"/>
<rect x="647.26" y="134.14" width="2" height="2.2" fill="#777"/>
<text x="591.92" y="157.49" font-size="7.6" font-weight="bold" text-anchor="start" fill="#1c1c1c" textLength="31.1" lengthAdjust="spacingAndGlyphs"  stroke="#1c1c1c" stroke-width="0.35">(A/BAG)</text>
<text x="636.81" y="154.18" font-size="7.6" font-weight="bold" text-anchor="start" fill="#1c1c1c" textLength="17.2" lengthAdjust="spacingAndGlyphs"  stroke="#1c1c1c" stroke-width="0.35">I/P-B</text>
<path d="M 405.89 173.47 L 417.29 173.47 L 417.29 178.37 L 490.69 178.37 L 490.69 173.47 L 502.09 173.47 L 502.09 214.07 L 490.69 214.07 L 490.69 209.17 L 417.29 209.17 L 417.29 214.07 L 405.89 214.07 Z" fill="#fff" stroke="#555" stroke-width="3.0" stroke-linejoin="miter"/>
<path d="M 405.89 173.47 L 417.29 173.47 L 417.29 178.37 L 490.69 178.37 L 490.69 173.47 L 502.09 173.47 L 502.09 214.07 L 490.69 214.07 L 490.69 209.17 L 417.29 209.17 L 417.29 214.07 L 405.89 214.07 Z" fill="none" stroke="#b4b4b4" stroke-width="1.8" stroke-linejoin="miter"/>
<line x1="417.49" y1="178.57" x2="490.49" y2="178.57" stroke="#6e6e6e" stroke-width="2.4"/>
<line x1="417.49" y1="208.87" x2="490.49" y2="208.87" stroke="#444" stroke-width="2.6"/>
<rect x="408.69" y="180.67" width="90.6" height="26.4" fill="none" stroke="#666" stroke-width="0.8"/>
<rect x="407.29" y="192.87" width="2.4" height="3.0" fill="#fff" stroke="#666" stroke-width="0.6"/>
<rect x="498.29" y="192.87" width="2.4" height="3.0" fill="#fff" stroke="#666" stroke-width="0.6"/>
<path d="M 438.69 176.67 L 444.19 185.47 L 455.19 185.47 L 460.69 176.67 Z" fill="#fff" stroke="#777" stroke-width="0.8"/>
<rect x="438.69" y="176.67" width="22.0" height="3.0" fill="#fff" stroke="#888" stroke-width="0.6"/>
<line x1="443.19" y1="182.87" x2="456.19" y2="182.87" stroke="#999" stroke-width="0.7"/>
<rect x="411.89" y="185.17" width="5.8" height="5.8" fill="#fff" stroke="#222" stroke-width="1.0"/>
<rect x="413.79" y="186.97" width="2" height="2.2" fill="#777"/>
<rect x="417.89" y="185.17" width="5.8" height="5.8" fill="#fff" stroke="#222" stroke-width="1.0"/>
<rect x="419.79" y="186.97" width="2" height="2.2" fill="#777"/>
<rect x="423.89" y="185.17" width="5.8" height="5.8" fill="#fff" stroke="#222" stroke-width="1.0"/>
<rect x="425.79" y="186.97" width="2" height="2.2" fill="#777"/>
<rect x="429.89" y="185.17" width="5.8" height="5.8" fill="#fff" stroke="#222" stroke-width="1.0"/>
<rect x="431.79" y="186.97" width="2" height="2.2" fill="#777"/>
<rect x="435.89" y="185.17" width="5.8" height="5.8" fill="#fff" stroke="#222" stroke-width="1.0"/>
<rect x="437.79" y="186.97" width="2" height="2.2" fill="#777"/>
<rect x="457.09" y="185.17" width="7" height="5.8" fill="#fff" stroke="#222" stroke-width="1.0"/>
<rect x="459.59" y="186.97" width="2" height="2.2" fill="#777"/>
<rect x="464.79" y="185.17" width="7" height="5.8" fill="#fff" stroke="#222" stroke-width="1.0"/>
<rect x="467.29" y="186.97" width="2" height="2.2" fill="#777"/>
<rect x="472.49" y="185.17" width="7" height="5.8" fill="#fff" stroke="#222" stroke-width="1.0"/>
<rect x="474.99" y="186.97" width="2" height="2.2" fill="#777"/>
<rect x="480.19" y="185.17" width="7" height="5.8" fill="#fff" stroke="#222" stroke-width="1.0"/>
<rect x="482.69" y="186.97" width="2" height="2.2" fill="#777"/>
<rect x="487.89" y="185.17" width="7" height="5.8" fill="#fff" stroke="#222" stroke-width="1.0"/>
<rect x="490.39" y="186.97" width="2" height="2.2" fill="#777"/>
<rect x="409.89" y="198.27" width="7.2" height="6.2" fill="#9c9c9c" stroke="#222" stroke-width="1.0"/>
<rect x="412.19" y="199.97" width="2.6" height="2.6" fill="#d8d8d8"/>
<rect x="417.71" y="198.27" width="7.2" height="6.2" fill="#9c9c9c" stroke="#222" stroke-width="1.0"/>
<rect x="420.01" y="199.97" width="2.6" height="2.6" fill="#d8d8d8"/>
<rect x="425.53" y="198.27" width="7.2" height="6.2" fill="#9c9c9c" stroke="#222" stroke-width="1.0"/>
<rect x="427.83" y="199.97" width="2.6" height="2.6" fill="#d8d8d8"/>
<rect x="433.35" y="198.27" width="7.2" height="6.2" fill="#9c9c9c" stroke="#222" stroke-width="1.0"/>
<rect x="435.65" y="199.97" width="2.6" height="2.6" fill="#d8d8d8"/>
<rect x="441.17" y="198.27" width="7.2" height="6.2" fill="#9c9c9c" stroke="#222" stroke-width="1.0"/>
<rect x="443.47" y="199.97" width="2.6" height="2.6" fill="#d8d8d8"/>
<rect x="448.99" y="198.27" width="7.2" height="6.2" fill="#fff" stroke="#222" stroke-width="1.0"/>
<rect x="451.59" y="200.27" width="2" height="2.2" fill="#777"/>
<rect x="456.81" y="198.27" width="7.2" height="6.2" fill="#fff" stroke="#222" stroke-width="1.0"/>
<rect x="459.41" y="200.27" width="2" height="2.2" fill="#777"/>
<rect x="464.63" y="198.27" width="7.2" height="6.2" fill="#fff" stroke="#222" stroke-width="1.0"/>
<rect x="467.23" y="200.27" width="2" height="2.2" fill="#777"/>
<rect x="472.45" y="198.27" width="7.2" height="6.2" fill="#fff" stroke="#222" stroke-width="1.0"/>
<rect x="475.05" y="200.27" width="2" height="2.2" fill="#777"/>
<rect x="480.27" y="198.27" width="7.2" height="6.2" fill="#fff" stroke="#222" stroke-width="1.0"/>
<rect x="482.87" y="200.27" width="2" height="2.2" fill="#777"/>
<rect x="488.09" y="198.27" width="7.2" height="6.2" fill="#fff" stroke="#222" stroke-width="1.0"/>
<rect x="490.69" y="200.27" width="2" height="2.2" fill="#777"/>
<text x="443.49" y="172.69" font-size="7.6" font-weight="bold" text-anchor="start" fill="#1c1c1c" textLength="17.2" lengthAdjust="spacingAndGlyphs"  stroke="#1c1c1c" stroke-width="0.35">I/P-C</text>
<text x="494.14" y="224.85" font-size="7.6" font-weight="bold" text-anchor="start" fill="#1c1c1c" textLength="24.8" lengthAdjust="spacingAndGlyphs"  stroke="#1c1c1c" stroke-width="0.35">(MAIN)</text>
<path d="M 409.11 282.46 L 409.11 243.16 L 493.41 243.16 L 493.41 282.46 Z" fill="#fff" stroke="#555" stroke-width="4.2" stroke-linejoin="miter"/>
<path d="M 409.11 282.46 L 409.11 243.16 L 493.41 243.16 L 493.41 282.46 Z" fill="none" stroke="#929292" stroke-width="3.1" stroke-linejoin="miter"/>
<rect x="415.11" y="243.96" width="4" height="7.2" fill="#929292" stroke="#555" stroke-width="0.5"/>
<rect x="419.11" y="243.96" width="4.5" height="5.2" fill="#555" stroke="#555" stroke-width="0.5"/>
<rect x="428.61" y="243.96" width="5" height="7.2" fill="#929292" stroke="#555" stroke-width="0.5"/>
<rect x="468.61" y="243.96" width="5" height="7.2" fill="#929292" stroke="#555" stroke-width="0.5"/>
<rect x="477.61" y="243.96" width="4.5" height="5.2" fill="#555" stroke="#555" stroke-width="0.5"/>
<rect x="482.11" y="243.96" width="4" height="7.2" fill="#929292" stroke="#555" stroke-width="0.5"/>
<path d="M 439.61 244.76 Q 450.61 246.76 461.11 244.76" fill="none" stroke="#333" stroke-width="1.1"/>
<rect x="414.01" y="257.16" width="8.1" height="5.5" fill="#fff" stroke="#222" stroke-width="1.0"/>
<rect x="417.06" y="258.81" width="2" height="2.2" fill="#777"/>
<rect x="414.01" y="269.56" width="8.1" height="5.3" fill="#fff" stroke="#222" stroke-width="1.0"/>
<rect x="417.06" y="271.11" width="2" height="2.2" fill="#777"/>
<rect x="424.81" y="257.16" width="8.1" height="5.5" fill="#fff" stroke="#222" stroke-width="1.0"/>
<rect x="427.86" y="258.81" width="2" height="2.2" fill="#777"/>
<rect x="424.81" y="269.56" width="8.1" height="5.3" fill="#fff" stroke="#222" stroke-width="1.0"/>
<rect x="427.86" y="271.11" width="2" height="2.2" fill="#777"/>
<rect x="435.61" y="257.16" width="8.1" height="5.5" fill="#fff" stroke="#222" stroke-width="1.0"/>
<rect x="438.66" y="258.81" width="2" height="2.2" fill="#777"/>
<rect x="435.61" y="269.56" width="8.1" height="5.3" fill="#fff" stroke="#222" stroke-width="1.0"/>
<rect x="438.66" y="271.11" width="2" height="2.2" fill="#777"/>
<rect x="445.91" y="257.16" width="8.1" height="5.5" fill="#fff" stroke="#222" stroke-width="1.0"/>
<rect x="448.96" y="258.81" width="2" height="2.2" fill="#777"/>
<rect x="445.91" y="269.56" width="8.1" height="5.3" fill="#fff" stroke="#222" stroke-width="1.0"/>
<rect x="448.96" y="271.11" width="2" height="2.2" fill="#777"/>
<rect x="456.61" y="257.16" width="8.1" height="5.5" fill="#fff" stroke="#222" stroke-width="1.0"/>
<rect x="459.66" y="258.81" width="2" height="2.2" fill="#777"/>
<rect x="456.61" y="269.56" width="8.1" height="5.3" fill="#fff" stroke="#222" stroke-width="1.0"/>
<rect x="459.66" y="271.11" width="2" height="2.2" fill="#777"/>
<rect x="466.91" y="257.16" width="8.1" height="5.5" fill="#fff" stroke="#222" stroke-width="1.0"/>
<rect x="469.96" y="258.81" width="2" height="2.2" fill="#777"/>
<rect x="466.91" y="269.56" width="8.1" height="5.3" fill="#fff" stroke="#222" stroke-width="1.0"/>
<rect x="469.96" y="271.11" width="2" height="2.2" fill="#777"/>
<rect x="477.21" y="257.16" width="8.1" height="5.5" fill="#fff" stroke="#222" stroke-width="1.0"/>
<rect x="480.26" y="258.81" width="2" height="2.2" fill="#777"/>
<rect x="477.21" y="269.56" width="8.1" height="5.3" fill="#fff" stroke="#222" stroke-width="1.0"/>
<rect x="480.26" y="271.11" width="2" height="2.2" fill="#777"/>
<text x="443.51" y="240.29" font-size="7.6" font-weight="bold" text-anchor="start" fill="#1c1c1c" textLength="17.5" lengthAdjust="spacingAndGlyphs"  stroke="#1c1c1c" stroke-width="0.35">I/P-E</text>
<path d="M 417.17 318.63 L 457.27 318.63 L 457.27 327.83 L 451.67 327.83 L 451.67 362.53 L 460.02 362.53 L 460.02 397.33 L 451.67 397.33 L 451.67 424.33 L 457.27 424.33 L 457.27 433.53 L 417.17 433.53 Z" fill="#fff" stroke="#555" stroke-width="4.2" stroke-linejoin="miter"/>
<path d="M 417.17 318.63 L 457.27 318.63 L 457.27 327.83 L 451.67 327.83 L 451.67 362.53 L 460.02 362.53 L 460.02 397.33 L 451.67 397.33 L 451.67 424.33 L 457.27 424.33 L 457.27 433.53 L 417.17 433.53 Z" fill="none" stroke="#929292" stroke-width="3.1" stroke-linejoin="miter"/>
<rect x="425.17" y="324.83" width="6.5" height="6" fill="#fff" stroke="#222" stroke-width="1.0"/>
<rect x="427.42" y="326.73" width="2" height="2.2" fill="#777"/>
<rect x="438.97" y="324.83" width="6.5" height="6" fill="#fff" stroke="#222" stroke-width="1.0"/>
<rect x="441.22" y="326.73" width="2" height="2.2" fill="#777"/>
<rect x="425.17" y="335.23" width="6.5" height="6" fill="#fff" stroke="#222" stroke-width="1.0"/>
<rect x="427.42" y="337.13" width="2" height="2.2" fill="#777"/>
<rect x="438.97" y="335.23" width="6.5" height="6" fill="#fff" stroke="#222" stroke-width="1.0"/>
<rect x="441.22" y="337.13" width="2" height="2.2" fill="#777"/>
<rect x="425.17" y="345.53" width="6.5" height="6" fill="#fff" stroke="#222" stroke-width="1.0"/>
<rect x="427.42" y="347.43" width="2" height="2.2" fill="#777"/>
<rect x="438.97" y="345.53" width="6.5" height="6" fill="#fff" stroke="#222" stroke-width="1.0"/>
<rect x="441.22" y="347.43" width="2" height="2.2" fill="#777"/>
<rect x="425.17" y="408.83" width="6.5" height="6" fill="#fff" stroke="#222" stroke-width="1.0"/>
<rect x="427.42" y="410.73" width="2" height="2.2" fill="#777"/>
<rect x="438.97" y="408.83" width="6.5" height="6" fill="#fff" stroke="#222" stroke-width="1.0"/>
<rect x="441.22" y="410.73" width="2" height="2.2" fill="#777"/>
<rect x="425.17" y="418.73" width="6.5" height="6" fill="#fff" stroke="#222" stroke-width="1.0"/>
<rect x="427.42" y="420.63" width="2" height="2.2" fill="#777"/>
<rect x="438.97" y="418.73" width="6.5" height="6" fill="#fff" stroke="#222" stroke-width="1.0"/>
<rect x="441.22" y="420.63" width="2" height="2.2" fill="#777"/>
<rect x="425.17" y="360.53" width="20.3" height="4.7" fill="#fff" stroke="#222" stroke-width="1.0"/>
<line x1="433.17" y1="362.83" x2="437.67" y2="362.83" stroke="#555" stroke-width="1.0"/>
<rect x="425.17" y="373.43" width="20.3" height="4.7" fill="#fff" stroke="#222" stroke-width="1.0"/>
<line x1="433.17" y1="375.73" x2="437.67" y2="375.73" stroke="#555" stroke-width="1.0"/>
<rect x="425.17" y="386.43" width="20.3" height="4.7" fill="#fff" stroke="#222" stroke-width="1.0"/>
<line x1="433.17" y1="388.73" x2="437.67" y2="388.73" stroke="#555" stroke-width="1.0"/>
<rect x="425.17" y="399.33" width="20.3" height="4.7" fill="#fff" stroke="#222" stroke-width="1.0"/>
<line x1="433.17" y1="401.63" x2="437.67" y2="401.63" stroke="#555" stroke-width="1.0"/>
<rect x="452.77" y="373.43" width="5.2" height="15.5" fill="#fff" stroke="#333" stroke-width="0.9"/>
<text x="457.44" y="416.03" font-size="7.6" font-weight="bold" text-anchor="start" fill="#1c1c1c" textLength="18.2" lengthAdjust="spacingAndGlyphs"  stroke="#1c1c1c" stroke-width="0.35">I/P-G</text>
<text x="472.03" y="435.36" font-size="7.6" font-weight="bold" text-anchor="start" fill="#1c1c1c" textLength="36.5" lengthAdjust="spacingAndGlyphs"  stroke="#1c1c1c" stroke-width="0.35">(ENGINE)</text>
<path d="M 493.55 374.67 L 493.55 335.27 L 502.55 335.27 L 502.55 341.17 L 513.55 341.17 L 513.55 335.27 L 548.35 335.27 L 548.35 341.17 L 559.65 341.17 L 559.65 335.27 L 567.75 335.27 L 567.75 374.67 Z" fill="#fff" stroke="#555" stroke-width="4.1" stroke-linejoin="miter"/>
<path d="M 493.55 374.67 L 493.55 335.27 L 502.55 335.27 L 502.55 341.17 L 513.55 341.17 L 513.55 335.27 L 548.35 335.27 L 548.35 341.17 L 559.65 341.17 L 559.65 335.27 L 567.75 335.27 L 567.75 374.67 Z" fill="none" stroke="#929292" stroke-width="3" stroke-linejoin="miter"/>
<path d="M 521.95 336.07 L 521.95 345.07 L 538.75 345.07 L 538.75 336.07" fill="#fff" stroke="#555" stroke-width="0.9"/>
<line x1="523.55" y1="344.87" x2="537.15" y2="344.87" stroke="#555" stroke-width="2.0"/>
<rect x="497.85" y="350.77" width="8.8" height="5.6" fill="#fff" stroke="#222" stroke-width="1.0"/>
<rect x="501.25" y="352.47" width="2" height="2.2" fill="#777"/>
<rect x="509.15" y="350.77" width="8.8" height="5.6" fill="#fff" stroke="#222" stroke-width="1.0"/>
<rect x="512.55" y="352.47" width="2" height="2.2" fill="#777"/>
<rect x="543.85" y="350.77" width="8.8" height="5.6" fill="#fff" stroke="#222" stroke-width="1.0"/>
<rect x="547.25" y="352.47" width="2" height="2.2" fill="#777"/>
<rect x="554.65" y="350.77" width="8.8" height="5.6" fill="#fff" stroke="#222" stroke-width="1.0"/>
<rect x="558.05" y="352.47" width="2" height="2.2" fill="#777"/>
<rect x="497.85" y="363.67" width="8.8" height="5.8" fill="#fff" stroke="#222" stroke-width="1.0"/>
<rect x="501.25" y="365.47" width="2" height="2.2" fill="#777"/>
<rect x="509.15" y="363.67" width="8.8" height="5.8" fill="#fff" stroke="#222" stroke-width="1.0"/>
<rect x="512.55" y="365.47" width="2" height="2.2" fill="#777"/>
<rect x="520.75" y="363.67" width="8.8" height="5.8" fill="#fff" stroke="#222" stroke-width="1.0"/>
<rect x="524.15" y="365.47" width="2" height="2.2" fill="#777"/>
<rect x="532.15" y="363.67" width="8.8" height="5.8" fill="#fff" stroke="#222" stroke-width="1.0"/>
<rect x="535.55" y="365.47" width="2" height="2.2" fill="#777"/>
<rect x="543.85" y="363.67" width="8.8" height="5.8" fill="#fff" stroke="#222" stroke-width="1.0"/>
<rect x="547.25" y="365.47" width="2" height="2.2" fill="#777"/>
<rect x="554.65" y="363.67" width="8.8" height="5.8" fill="#fff" stroke="#222" stroke-width="1.0"/>
<rect x="558.05" y="365.47" width="2" height="2.2" fill="#777"/>
<text x="520.84" y="331.23" font-size="7.6" font-weight="bold" text-anchor="start" fill="#1c1c1c" textLength="18.4" lengthAdjust="spacingAndGlyphs"  stroke="#1c1c1c" stroke-width="0.35">I/P-H</text>
<text x="516.5" y="387.05" font-size="7.6" font-weight="bold" text-anchor="start" fill="#1c1c1c" textLength="28.5" lengthAdjust="spacingAndGlyphs"  stroke="#1c1c1c" stroke-width="0.35">(ROOF)</text>
<path d="M 408.08 448.77 L 463.38 448.77 L 463.38 456.57 L 477.78 456.57 L 477.78 482.17 L 463.38 482.17 L 463.38 489.57 L 408.08 489.57 Z" fill="#fff" stroke="#555" stroke-width="4.2" stroke-linejoin="miter"/>
<path d="M 408.08 448.77 L 463.38 448.77 L 463.38 456.57 L 477.78 456.57 L 477.78 482.17 L 463.38 482.17 L 463.38 489.57 L 408.08 489.57 Z" fill="none" stroke="#929292" stroke-width="3.1" stroke-linejoin="miter"/>
<rect x="434.38" y="449.87" width="4.5" height="5.6" rx="0.8" fill="#fff" stroke="#444" stroke-width="0.8"/>
<rect x="434.38" y="482.27" width="4.5" height="5.6" rx="0.8" fill="#fff" stroke="#444" stroke-width="0.8"/>
<rect x="418.68" y="460.07" width="6.3" height="19.5" fill="#fff" stroke="#333" stroke-width="0.9"/>
<rect x="420.98" y="468.97" width="1.8" height="1.8" fill="#444"/>
<rect x="445.88" y="460.07" width="6.3" height="19.5" fill="#fff" stroke="#333" stroke-width="0.9"/>
<rect x="448.18" y="468.97" width="1.8" height="1.8" fill="#444"/>
<rect x="469.98" y="461.97" width="7.4" height="13.9" fill="#fff" stroke="#444" stroke-width="0.8"/>
<rect x="471.88" y="465.67" width="3.6" height="6.5" fill="#fff" stroke="#555" stroke-width="0.7"/>
<text x="471.51" y="451.26" font-size="7.6" font-weight="bold" text-anchor="start" fill="#1c1c1c" textLength="16.3" lengthAdjust="spacingAndGlyphs"  stroke="#1c1c1c" stroke-width="0.35">I/P-J</text>
</g>
</svg>
</body></html>
